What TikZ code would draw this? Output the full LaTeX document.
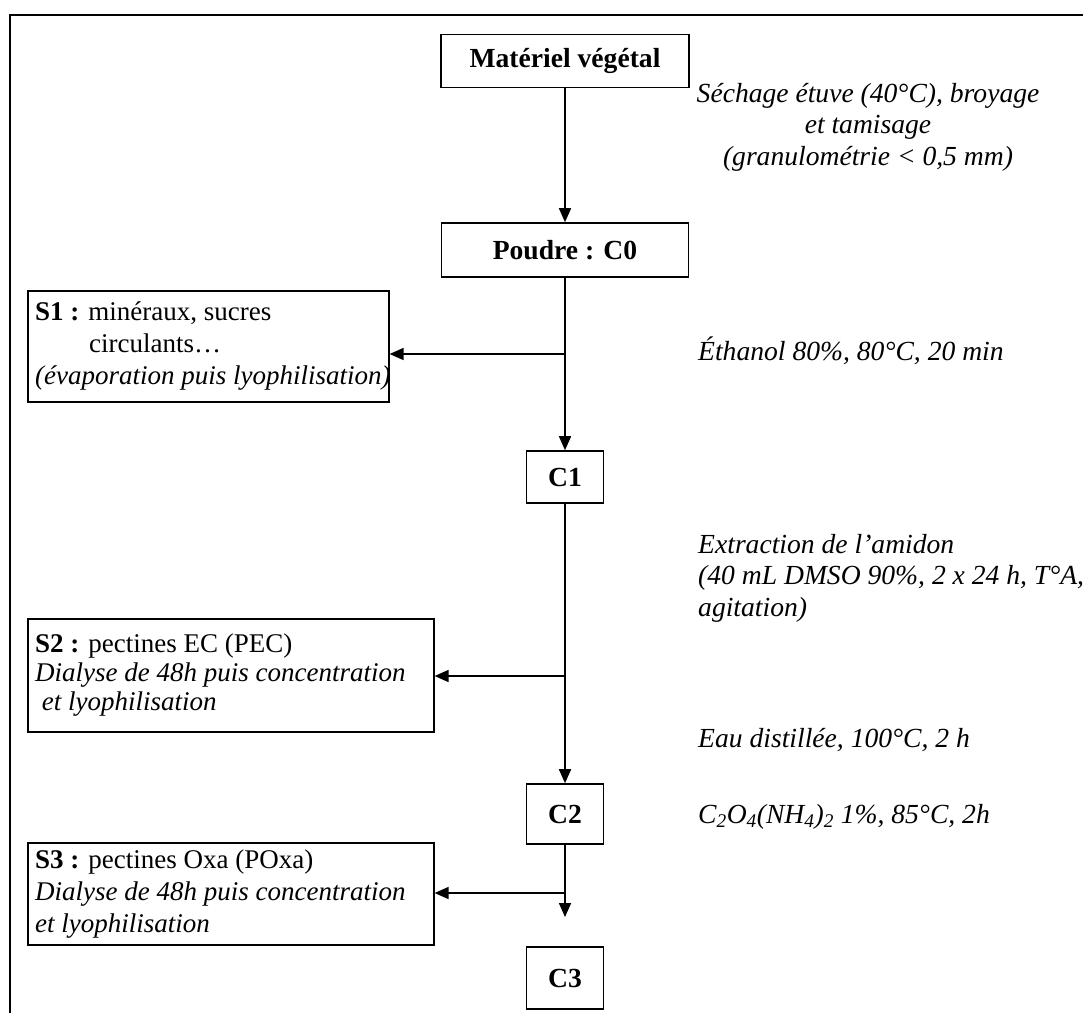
\documentclass[tikz,border=0pt]{standalone}
\usepackage{fontspec}
\setmainfont{Liberation Serif}
\usetikzlibrary{arrows.meta}
\begin{document}
\begin{tikzpicture}[x=1pt,y=-1pt,
  every node/.style={font=\fontsize{27}{32}\selectfont},
  box/.style={draw, line width=1.6pt, inner sep=0pt, font=\fontsize{27.6}{32}\selectfont\bfseries},
  sbox/.style={draw, line width=1.6pt, inner sep=0pt, anchor=north west},
  stext/.style={anchor=west, align=left, inner sep=0pt, font=\fontsize{27}{29}\selectfont},
  note/.style={font=\fontsize{27.6}{31.5}\selectfont\itshape, anchor=base west, inner sep=0pt, align=left},
  arr/.style={line width=1.6pt, -{Triangle[width=12pt,length=14pt]}},
  ln/.style={line width=1.6pt}]
\clip (0,0) rectangle (1083,1013);
% frame
\draw[line width=2pt] (10,1013) -- (10,15) -- (1083,15);
% main column
\node[box, minimum width=248, minimum height=53] (mat) at (565,61) {Matériel végétal};
\node[box, minimum width=247, minimum height=54] (pou) at (565,250) {Poudre : C0};
\node[box, minimum width=77, minimum height=52] (c1) at (565,477) {C1};
\node[box, minimum width=77, minimum height=60] (c2) at (565,814) {C2};
\node[box, minimum width=77, minimum height=62] (c3) at (565,978) {C3};
\coordinate (c3in) at (565,917);
% side boxes
\node[sbox, minimum width=361, minimum height=111] (s1) at (27,290) {};
\node[stext, font=\fontsize{27}{32}\selectfont] (s1t) at ([xshift=8pt]s1.west) {\textbf{S1 :} minéraux, sucres\\\hspace*{2em}circulants…\\\textit{(évaporation puis lyophilisation)}};
\node[sbox, minimum width=406, minimum height=113] (s2) at (27,618) {};
\node[stext] (s2t) at ([xshift=8pt]s2.west) {\textbf{S2 :} pectines EC (PEC)\\\textit{Dialyse de 48h puis concentration}\\\textit{\ et lyophilisation}};
\node[sbox, minimum width=406, minimum height=102] (s3) at (27,842) {};
\node[stext, font=\fontsize{27}{32}\selectfont] (s3t) at ([xshift=8pt]s3.west) {\textbf{S3 :} pectines Oxa (POxa)\\\textit{Dialyse de 48h puis concentration}\\\textit{et lyophilisation}};
% branch points
\coordinate (b1) at (565,354);
\coordinate (b2) at (565,676);
\coordinate (b3) at (565,893);
% connectors
\draw[arr] (mat) -- (pou);
\draw[arr] (pou) -- (c1);
\draw[arr] (c1) -- (c2);
\draw[arr] (c2) -- (c3in);
\draw[arr] (b1) -- (b1 -| s1.east);
\draw[arr] (b2) -- (b2 -| s2.east);
\draw[arr] (b3) -- (b3 -| s3.east);
% notes
\node[note, anchor=base, align=center] (n0) at (868,165) {Séchage étuve (40°C), broyage\\et tamisage\\(granulométrie < 0,5 mm)};
\node[note] (n1) at (698,360) {Éthanol 80\%, 80°C, 20 min};
\node[note] (n2) at (698,616) {Extraction de l’amidon\\(40 mL DMSO 90\%, 2 x 24 h, T°A,\\agitation)};
\node[note] (n3) at (698,747) {Eau distillée, 100°C, 2 h};
\node[note] (n4) at (698,823) {C\textsubscript{2}O\textsubscript{4}(NH\textsubscript{4})\textsubscript{2} 1\%, 85°C, 2h};
\end{tikzpicture}
\end{document}
